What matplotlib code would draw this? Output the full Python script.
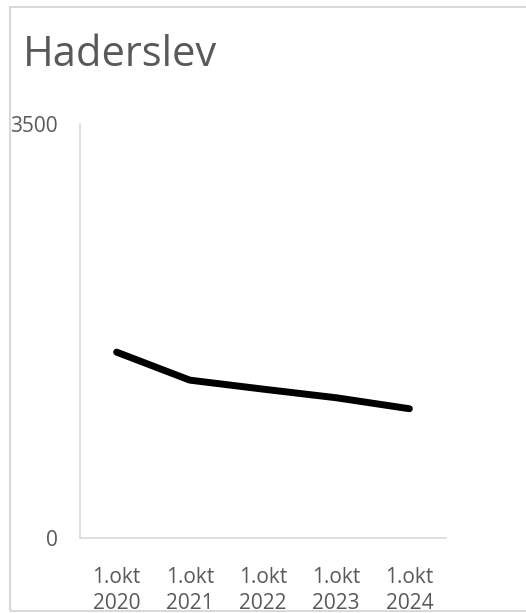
import matplotlib
matplotlib.use("Agg")
import matplotlib.pyplot as plt
from matplotlib.patches import Rectangle

title = "Haderslev"
categories = ["1.okt\n2020", "1.okt\n2021", "1.okt\n2022", "1.okt\n2023", "1.okt\n2024"]
values = [1570, 1333, 1257, 1184, 1091]
y_ticks = [0, 3500]

plt.rcParams['font.family'] = ['Open Sans', 'DejaVu Sans']
gray = "#595959"
light = "#d9d9d9"

fig = plt.figure(figsize=(5.26, 6.13), dpi=100)
fig.add_artist(Rectangle((10/526, 2/613), 1.2, (611-7)/613,
                         transform=fig.transFigure, fill=False, edgecolor=light, linewidth=1.5))
ax = fig.add_axes([80/526, (613-537.7)/613, 366/526, (537.7-124)/613])

x = list(range(len(categories)))
ax.plot(x, values, color="black", linewidth=5, solid_capstyle="round", solid_joinstyle="round")
ax.set_xlim(-0.5, len(categories) - 0.5)
ax.set_ylim(0, 3500)
ax.set_yticks(y_ticks)
ax.set_yticklabels([str(v) for v in y_ticks])
ax.set_xticks(x)
ax.set_xticklabels(categories, linespacing=1.3)
ax.tick_params(axis='y', length=0, pad=16, labelsize=15, labelcolor=gray)
ax.tick_params(axis='x', length=0, pad=21, labelsize=15, labelcolor=gray)
for s in ["top", "right"]:
    ax.spines[s].set_visible(False)
for s in ["left", "bottom"]:
    ax.spines[s].set_color(light)
    ax.spines[s].set_linewidth(1.2)

fig.text(23/526, 1 - 66/613, title, fontsize=30, color=gray, ha="left", va="baseline")

fig.savefig("out.png", dpi=100)
